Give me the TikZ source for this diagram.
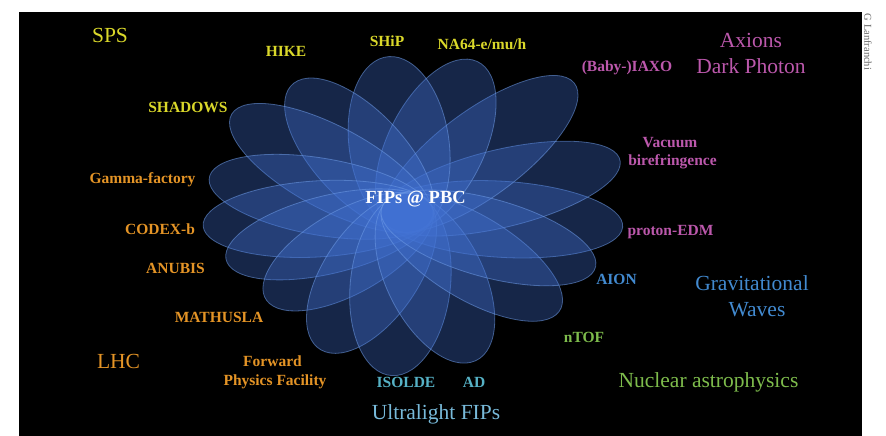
\documentclass[tikz,border=0pt]{standalone}
\usepackage{fontspec}
\setmainfont{Liberation Serif}
\definecolor{cyel}{RGB}{218,216,42}
\definecolor{corg}{RGB}{228,148,38}
\definecolor{cpur}{RGB}{188,88,172}
\definecolor{cblu}{RGB}{66,138,208}
\definecolor{cgrn}{RGB}{126,188,76}
\definecolor{ccya}{RGB}{86,178,198}
\definecolor{cult}{RGB}{120,186,218}
\definecolor{petalfill}{RGB}{66,114,212}
\definecolor{petalline}{RGB}{110,155,230}
\begin{document}
\begin{tikzpicture}[x=1pt,y=-1pt,
  petal/.style={fill=petalfill, fill opacity=0.34, draw=petalline, draw opacity=0.55, line width=0.8pt},
  lab/.style={font=\fontsize{15.5}{18}\selectfont\bfseries, anchor=base, inner sep=0pt},
  big/.style={font=\fontsize{21.5}{25}\selectfont, anchor=base, inner sep=0pt}]
\useasboundingbox (0,0) rectangle (886,436);
\fill[white] (0,0) rectangle (886,436);
\fill[black] (19,12) rectangle (862,436);
% flower
\begin{scope}[shift={(407,213)}, xscale=1.32]
\foreach \ang/\r in {355/164,19/170,47/182,72/161,95/157,122/156,142/166,166/154,185/155,200/145,221/138,246/152,266/163,288/157,318/152,338/153} {
  \pgfmathsetmacro\dd{(\r-20)/2}
  \pgfmathsetmacro\aa{(\r+20)/2}
  \draw[petal, rotate=\ang] (\dd pt,0pt) ellipse [x radius=\aa pt, y radius=38pt];
}
\end{scope}
\node[lab, text=white, font=\fontsize{18.5}{21}\selectfont\bfseries] (fips) at (415.5,203) {FIPs @ PBC};
% SPS
\node[big, text=cyel] (sps) at (110,43) {SPS};
\node[lab, text=cyel] (hike) at (286,57) {HIKE};
\node[lab, text=cyel] (ship) at (387,47) {SHiP};
\node[lab, text=cyel] (na64) at (482,50) {NA64-e/mu/h};
\node[lab, text=cyel] (shadows) at (188,112) {SHADOWS};
% Axions
\node[big, text=cpur] (axions) at (751,48) {Axions};
\node[big, text=cpur] (dark) at (751,74) {Dark Photon};
\node[lab, text=cpur] (iaxo) at (627,72) {(Baby-)IAXO};
\node[lab, text=cpur] (vac1) at (670,147) {Vacuum};
\node[lab, text=cpur] (vac2) at (672.5,165) {birefringence};
\node[lab, text=cpur] (pedm) at (670.5,235) {proton-EDM};
% GW
\node[lab, text=cblu] (aion) at (616.5,284) {AION};
\node[big, text=cblu] (gw1) at (752,290) {Gravitational};
\node[big, text=cblu] (gw2) at (757,316) {Waves};
% Nuclear
\node[lab, text=cgrn] (ntof) at (584,342) {nTOF};
\node[big, text=cgrn] (nuc) at (708.5,387) {Nuclear astrophysics};
% Ultralight
\node[lab, text=ccya] (isolde) at (406,387) {ISOLDE};
\node[lab, text=ccya] (ad) at (474,387) {AD};
\node[big, text=cult] (ulf) at (436,419) {Ultralight FIPs};
% LHC
\node[lab, text=corg] (gamma) at (142.5,183) {Gamma-factory};
\node[lab, text=corg] (codex) at (160,234) {CODEX-b};
\node[lab, text=corg] (anubis) at (175.5,273) {ANUBIS};
\node[lab, text=corg] (math) at (219,322) {MATHUSLA};
\node[big, text=corg] (lhc) at (118.5,368) {LHC};
\node[lab, text=corg] (fpf1) at (272.5,366) {Forward};
\node[lab, text=corg] (fpf2) at (275,385) {Physics Facility};
% credit
\node[rotate=-90, font=\fontsize{10.5}{12}\selectfont, text=black!60, inner sep=0pt] (credit) at (868,42) {G Lanfranchi};
\end{tikzpicture}
\end{document}
